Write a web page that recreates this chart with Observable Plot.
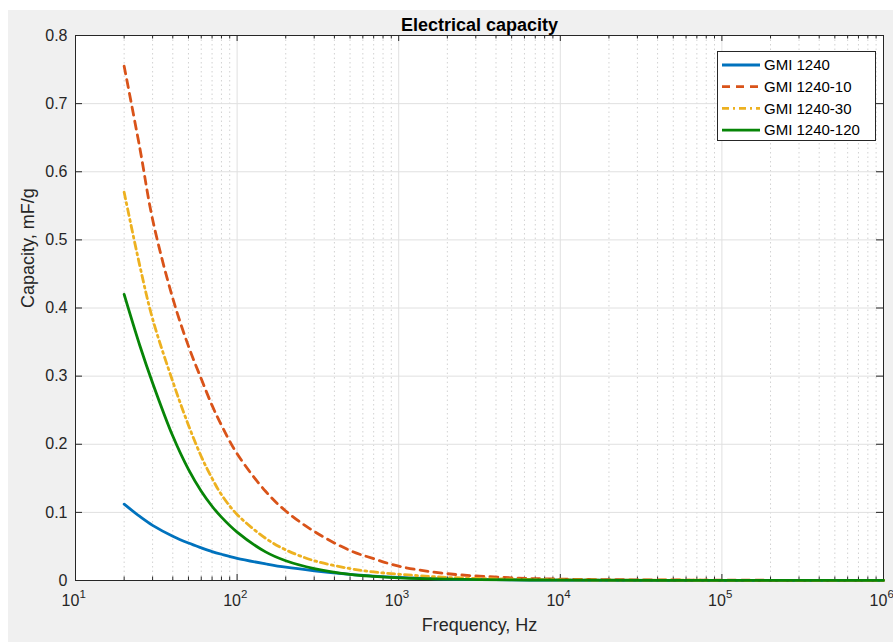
<!DOCTYPE html>
<html><head><meta charset="utf-8">
<script src="https://cdn.jsdelivr.net/npm/d3@7"></script>
<script src="https://cdn.jsdelivr.net/npm/@observablehq/plot@0.6"></script>
<style>
html,body{margin:0;padding:0;background:#fff;}
#wrap{position:relative;width:893px;height:642px;overflow:hidden;}
#bg{position:absolute;left:8px;top:10px;right:0;bottom:0;background:#f0f0f0;}
#chart{position:absolute;left:0;top:0;}
</style></head><body>
<div id="wrap"><div id="bg"></div><div id="chart"></div></div>
<script>
// ---- data ----
const title = "Electrical capacity";
const xLabel = "Frequency, Hz";
const yLabel = "Capacity, mF/g";
const seriesNames = ["GMI 1240", "GMI 1240-10", "GMI 1240-30", "GMI 1240-120"];
const freq =        [20,    25,    30,    40,    50,    60,    70,    80,    100,    150,    200,    300,    500,    700,    1000,   2000,  5000,  1e4,    1e5,    1e6];
const gmi1240 =     [0.112, 0.094, 0.081, 0.065, 0.055, 0.048, 0.0425,0.0385,0.0325, 0.0245, 0.0195, 0.0143, 0.009,  0.0065, 0.0045, 0.002, 0.001, 0.0005, 0.0002, 0.0001];
const gmi1240_10 =  [0.755, 0.635, 0.530, 0.414, 0.344, 0.296, 0.257, 0.228, 0.186,  0.131,  0.102,  0.072,  0.044,  0.032,  0.021,  0.010, 0.004, 0.002,  0.0005, 0.0002];
const gmi1240_30 =  [0.570, 0.462, 0.384, 0.292, 0.228, 0.182, 0.150, 0.126, 0.097,  0.062,  0.045,  0.029,  0.0175, 0.0125, 0.0092, 0.0045,0.002, 0.001,  0.0003, 0.0001];
const gmi1240_120 = [0.420, 0.345, 0.290, 0.212, 0.163, 0.131, 0.109, 0.093, 0.071,  0.042,  0.029,  0.0175, 0.009,  0.006,  0.004,  0.002, 0.001, 0.0005, 0.0002, 0.0001];
const seriesValues = [gmi1240, gmi1240_10, gmi1240_30, gmi1240_120];
const xDecades = [10, 100, 1000, 10000, 100000, 1000000];
const yTicks = [0, 0.1, 0.2, 0.3, 0.4, 0.5, 0.6, 0.7, 0.8];

// ---- styles ----
const seriesColors = ["#0072BD", "#D95319", "#EDB120", "#078507"];
const seriesDash = [null, "8,6", "7,4,2,4", null];
const lineWidth = 2.8;

const table = seriesNames.flatMap((name, i) => freq.map((f, j) => ({series: name, f, v: seriesValues[i][j]})));
const minorTicks = xDecades.slice(0, -1).flatMap(d => d3.range(2, 10).map(k => k * d));

const W = 893, H = 642, mL = 75, mR = 10, mT = 35, mB = 62;
const pw = W - mL - mR, ph = H - mT - mB;
const axisColor = "#262626";
const font = "'Liberation Sans', Arial, Helvetica, sans-serif";

const chart = Plot.plot({
  width: W, height: H,
  marginLeft: mL, marginRight: mR, marginTop: mT, marginBottom: mB,
  style: {background: "transparent", color: axisColor, fontFamily: font, overflow: "visible"},
  x: {type: "log", domain: [10, 1e6], axis: null},
  y: {domain: [0, 0.8], axis: null},
  marks: [
    Plot.frame({fill: "white", stroke: null}),
    // grid
    Plot.ruleX(minorTicks, {x: d => d, stroke: "#d2d2d2", strokeDasharray: "1.5,3", strokeWidth: 1}),
    Plot.ruleX(xDecades, {x: d => d, stroke: "#e0e0e0", strokeWidth: 1}),
    Plot.ruleY(yTicks, {y: d => d, stroke: "#e0e0e0", strokeWidth: 1}),
    // box
    Plot.frame({stroke: axisColor, strokeWidth: 1}),
    // ticks (inward)
    Plot.ruleX(xDecades, {x: d => d, insetTop: ph - 6, stroke: axisColor}),
    Plot.ruleX(xDecades, {x: d => d, insetBottom: ph - 6, stroke: axisColor}),
    Plot.ruleX(minorTicks, {x: d => d, insetTop: ph - 3.5, stroke: axisColor}),
    Plot.ruleX(minorTicks, {x: d => d, insetBottom: ph - 3.5, stroke: axisColor}),
    Plot.ruleY(yTicks, {y: d => d, insetRight: pw - 7, stroke: axisColor}),
    Plot.ruleY(yTicks, {y: d => d, insetLeft: pw - 7, stroke: axisColor}),
    // tick labels
    Plot.text(yTicks, {y: d => d, text: d => d === 0 ? "0" : d.toFixed(1), frameAnchor: "left", textAnchor: "end", dx: -8, fontSize: 16, fill: axisColor}),
    Plot.text(xDecades, {x: d => d, text: () => "10", frameAnchor: "bottom", textAnchor: "middle", dx: -5, dy: 25, fontSize: 16, fill: axisColor}),
    Plot.text(xDecades, {x: d => d, text: d => String(Math.round(Math.log10(d))), frameAnchor: "bottom", textAnchor: "start", dx: 4, dy: 17, fontSize: 11.5, fill: axisColor}),
    // labels
    Plot.text([xLabel], {frameAnchor: "bottom", dy: 50, fontSize: 18, fill: axisColor}),
    Plot.text([yLabel], {frameAnchor: "left", rotate: -90, dx: -47, fontSize: 18, fill: axisColor}),
    Plot.text([title], {frameAnchor: "top", dy: -17, fontSize: 18, fontWeight: "bold", fill: "#000"}),
    // series
    ...seriesNames.map((name, i) => Plot.line(table.filter(d => d.series === name), {
      x: "f", y: "v", stroke: seriesColors[i], strokeWidth: lineWidth,
      strokeDasharray: seriesDash[i] ?? undefined, curve: "catmull-rom"
    }))
  ]
});
document.getElementById("chart").append(chart);

// ---- legend (overlay inside the axes, top-right) ----
const svg = d3.select(chart);
const lgW = 158, lgH = 89, lgX = mL + pw - 8 - lgW, lgY = mT + 16, rowH = 21.7;
const lg = svg.append("g").attr("font-family", font).attr("font-size", 15).attr("text-anchor", "start");
lg.append("rect").attr("x", lgX + 0.5).attr("y", lgY + 0.5).attr("width", lgW).attr("height", lgH)
  .attr("fill", "white").attr("stroke", axisColor).attr("stroke-width", 1);
seriesNames.forEach((name, i) => {
  const cy = lgY + 14 + i * rowH;
  lg.append("line").attr("x1", lgX + 5).attr("x2", lgX + 43).attr("y1", cy).attr("y2", cy)
    .attr("stroke", seriesColors[i]).attr("stroke-width", lineWidth)
    .attr("stroke-dasharray", seriesDash[i]);
  lg.append("text").attr("x", lgX + 47).attr("y", cy).attr("dy", "0.35em")
    .attr("text-anchor", "start").attr("fill", "#000").text(name);
});
</script>
</body></html>
